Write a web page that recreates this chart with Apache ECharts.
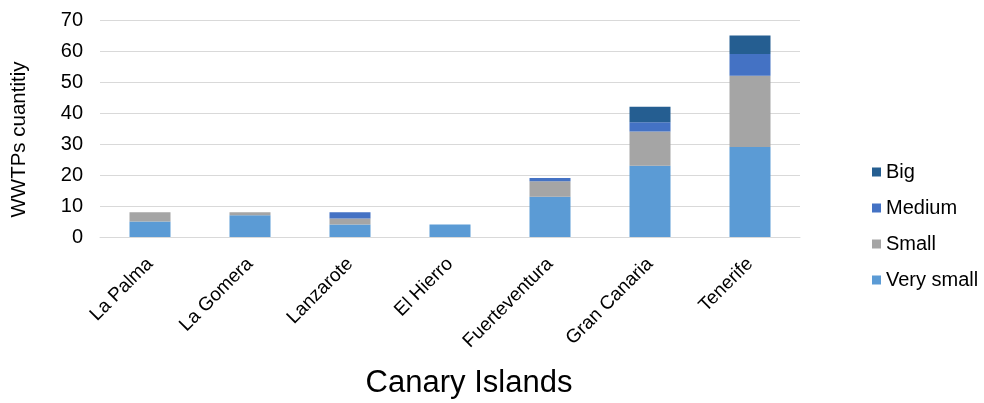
<!DOCTYPE html>
<html>
<head>
<meta charset="utf-8">
<script src="https://cdn.jsdelivr.net/npm/echarts@6/dist/echarts.min.js"></script>
<style>html,body{margin:0;padding:0;background:#fff}#c{width:984px;height:403px}</style>
</head>
<body>
<div id="c"></div>
<script>
const categories = ['La Palma', 'La Gomera', 'Lanzarote', 'El Hierro', 'Fuerteventura', 'Gran Canaria', 'Tenerife'];
const verySmall = [5, 7, 4, 4, 13, 23, 29];
const small = [3, 1, 2, 0, 5, 11, 23];
const medium = [0, 0, 2, 0, 1, 3, 7];
const big = [0, 0, 0, 0, 0, 5, 6];
const yTicks = [0, 10, 20, 30, 40, 50, 60, 70];

const FONT = '"Liberation Sans", Arial, sans-serif';
const chart = echarts.init(document.getElementById('c'));
const mk = (name, data, color) => ({
  name, type: 'bar', stack: 'total', data, barWidth: '41%',
  itemStyle: { color }, emphasis: { disabled: true }
});
chart.setOption({
  animation: false,
  textStyle: { fontFamily: FONT },
  grid: { left: 100, right: 184, top: 20, bottom: 166, containLabel: false, outerBoundsMode: 'none' },
  legend: {
    orient: 'vertical', left: 872, top: 162, padding: 0,
    itemWidth: 9, itemHeight: 9, itemGap: 16,
    icon: 'rect',
    data: ['Big', 'Medium', 'Small', 'Very small'],
    textStyle: { fontSize: 20, color: '#000', fontFamily: FONT, lineHeight: 20, padding: [0, 0, 0, 0] }
  },
  xAxis: {
    type: 'category', data: categories,
    name: 'Canary Islands', nameLocation: 'middle', nameGap: 131,
    nameTextStyle: { fontSize: 31, color: '#000', fontFamily: FONT, padding: [0, 0, 0, 38] },
    axisLine: { lineStyle: { color: '#D9D9D9', width: 1 } },
    axisTick: { show: false },
    axisLabel: { rotate: 45, fontSize: 19, color: '#000', margin: 24, fontFamily: FONT, interval: 0 }
  },
  yAxis: {
    type: 'value', min: yTicks[0], max: yTicks[yTicks.length - 1], interval: yTicks[1] - yTicks[0],
    name: 'WWTPs cuantitiy', nameLocation: 'middle', nameGap: 70, nameRotate: 90,
    nameTextStyle: { fontSize: 20.5, color: '#000', fontFamily: FONT, padding: [0, 22, 0, 0] },
    axisLine: { show: false }, axisTick: { show: false },
    axisLabel: { fontSize: 20, color: '#000', margin: 17, fontFamily: FONT },
    splitLine: { lineStyle: { color: '#D9D9D9', width: 1 } }
  },
  series: [
    mk('Very small', verySmall, '#5B9BD5'),
    mk('Small', small, '#A5A5A5'),
    mk('Medium', medium, '#4472C4'),
    mk('Big', big, '#255E91')
  ]
});
</script>
</body>
</html>
